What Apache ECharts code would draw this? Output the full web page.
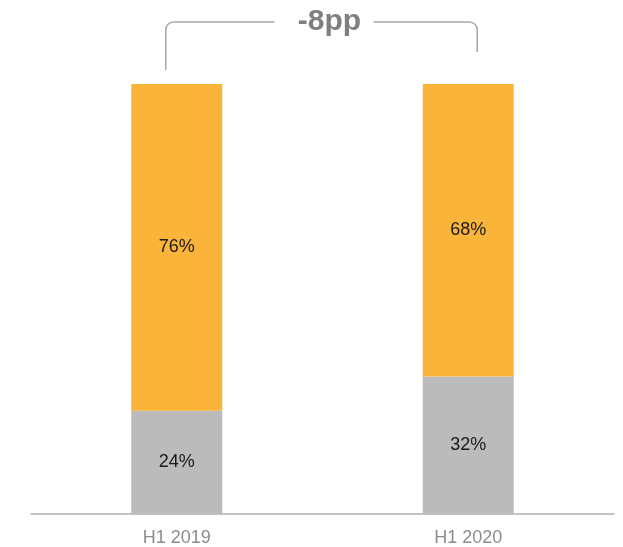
<!DOCTYPE html>
<html>
<head>
<meta charset="utf-8">
<script src="https://cdn.jsdelivr.net/npm/echarts@6/dist/echarts.min.js"></script>
<style>
  html, body { margin: 0; padding: 0; background: #fff; }
  #chart { width: 623px; height: 547px; }
</style>
</head>
<body>
<div id="chart"></div>
<script>
const categories = ["H1 2019", "H1 2020"];
const greyShare = [24, 32];
const orangeShare = [76, 68];
const deltaLabel = "-8pp";

const chart = echarts.init(document.getElementById("chart"));

const labelStyle = {
  show: true,
  position: "inside",
  formatter: (p) => p.value + "%",
  color: "#1a1a1a",
  fontSize: 18,
  fontFamily: "Liberation Sans, Arial, sans-serif",
};

chart.setOption({
  animation: false,
  grid: { left: 31, right: 9, top: 84, bottom: 33 },
  xAxis: {
    type: "category",
    data: categories,
    axisTick: { show: false },
    axisLine: { lineStyle: { color: "#b0b0b0", width: 1.5 } },
    axisLabel: {
      color: "#8c8c8c",
      fontSize: 18,
      margin: 15,
      fontFamily: "Liberation Sans, Arial, sans-serif",
    },
  },
  yAxis: {
    type: "value",
    min: 0,
    max: 100,
    show: false,
  },
  series: [
    {
      name: "grey",
      type: "bar",
      stack: "total",
      barWidth: 91,
      data: greyShare,
      itemStyle: { color: "#bbbbbb" },
      label: labelStyle,
    },
    {
      name: "orange",
      type: "bar",
      stack: "total",
      barWidth: 91,
      data: orangeShare,
      itemStyle: { color: "#fbb43a" },
      label: labelStyle,
    },
  ],
});

// bracket above the bars, anchored to the bar centres
const left = chart.convertToPixel({ seriesIndex: 0 }, [0, 100]);
const right = chart.convertToPixel({ seriesIndex: 0 }, [1, 100]);
const lx = left[0] - 11;
const rx = right[0] + 9;
const topY = 22;
const r = 8;
const textCx = (lx + rx) / 2 + 8;
const gapHalf = 50;

const lineStyle = { stroke: "#a6a6a6", lineWidth: 1.5, fill: null };

chart.setOption({
  graphic: [
    {
      type: "polyline",
      shape: { points: [[lx, 70], [lx, topY + r]] },
      style: lineStyle,
    },
    {
      type: "arc",
      shape: { cx: lx + r, cy: topY + r, r: r, startAngle: Math.PI, endAngle: Math.PI * 1.5 },
      style: lineStyle,
    },
    {
      type: "polyline",
      shape: { points: [[lx + r, topY], [textCx - gapHalf - 5, topY]] },
      style: lineStyle,
    },
    {
      type: "polyline",
      shape: { points: [[textCx + gapHalf - 6, topY], [rx - r, topY]] },
      style: lineStyle,
    },
    {
      type: "arc",
      shape: { cx: rx - r, cy: topY + r, r: r, startAngle: Math.PI * 1.5, endAngle: Math.PI * 2 },
      style: lineStyle,
    },
    {
      type: "polyline",
      shape: { points: [[rx, topY + r], [rx, 52]] },
      style: lineStyle,
    },
    {
      type: "text",
      x: textCx,
      y: topY,
      style: {
        text: deltaLabel,
        fill: "#7f7f7f",
        font: "bold 30px Liberation Sans, Arial, sans-serif",
        align: "center",
        verticalAlign: "middle",
      },
    },
  ],
});
</script>
</body>
</html>
